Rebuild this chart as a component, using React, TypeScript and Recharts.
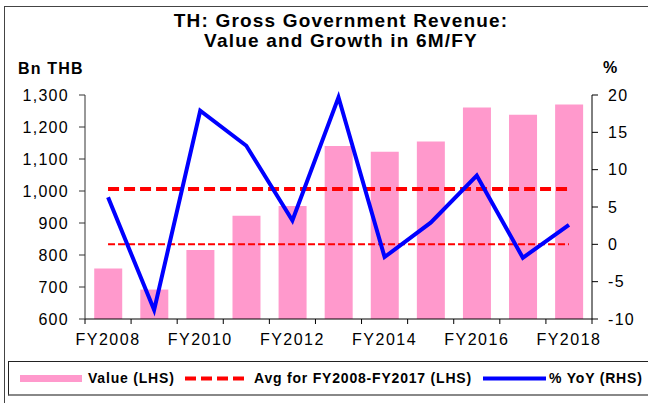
import React from 'react';
import { ComposedChart, Bar, Line, XAxis, YAxis } from 'recharts';

const categories = ['FY2008', 'FY2009', 'FY2010', 'FY2011', 'FY2012', 'FY2013', 'FY2014', 'FY2015', 'FY2016', 'FY2017', 'FY2018'];
const revenueBn = [758, 692, 816, 923, 953, 1141, 1123, 1155, 1261, 1238, 1270];
const yoyPct = [6.3, -8.8, 17.9, 13.2, 3.2, 19.7, -1.7, 2.9, 9.2, -1.8, 2.6];
const avgFY08to17 = 1006;
const zeroPct = 0;
const leftTicks = [600, 700, 800, 900, 1000, 1100, 1200, 1300];
const rightTicks = [-10, -5, 0, 5, 10, 15, 20];

const data = categories.map((name, i) => ({
  name,
  value: revenueBn[i],
  avg: avgFY08to17,
  zero: zeroPct,
  yoy: yoyPct[i],
}));

const W = 648;
const H = 403;
const LEFT_W = 85;
const RIGHT_W = 56;
const TOP = 95;
const X_AXIS_H = 84;
const PLOT_BOTTOM = H - X_AXIS_H;
const BAND = (W - LEFT_W - RIGHT_W) / categories.length;

const PINK = '#ff99cc';
const RED = '#ff0000';
const BLUE = '#0000ff';

const XTick = (props: any) => {
  const { x, index, payload } = props;
  const last = index === categories.length - 1;
  return (
    <g>
      <line x1={x - BAND / 2} x2={x - BAND / 2} y1={PLOT_BOTTOM} y2={PLOT_BOTTOM + 5} stroke="#000" />
      {last && <line x1={x + BAND / 2} x2={x + BAND / 2} y1={PLOT_BOTTOM} y2={PLOT_BOTTOM + 5} stroke="#000" />}
      {index % 2 === 0 && (
        <text x={x} y={PLOT_BOTTOM + 26} textAnchor="middle" fontSize={16} fill="#000" letterSpacing={1.5}>
          {payload.value}
        </text>
      )}
    </g>
  );
};

const legendText: React.CSSProperties = {
  position: 'absolute',
  top: 371,
  fontSize: 14,
  lineHeight: '14px',
  fontWeight: 'bold',
  letterSpacing: 0.8,
  whiteSpace: 'nowrap',
  color: '#000',
};

const App: React.FC = () => {
  return (
    <div
      style={{
        position: 'absolute',
        left: 0,
        top: 0,
        width: W,
        height: H,
        overflow: 'hidden',
        background: '#fff',
        fontFamily: '"Liberation Sans", Arial, sans-serif',
      }}
    >
      {/* outer frame */}
      <div style={{ position: 'absolute', left: 4, top: 6, width: 700, height: 500, border: '1px solid #444' }} />

      <ComposedChart width={W} height={H} data={data} margin={{ top: TOP, right: 0, left: 0, bottom: 0 }} barCategoryGap="20%">
        <XAxis dataKey="name" interval={0} tickLine={false} axisLine={{ stroke: '#000' }} height={X_AXIS_H} tick={XTick} />
        <YAxis
          yAxisId="left"
          domain={[600, 1300]}
          ticks={leftTicks}
          interval={0}
          width={LEFT_W}
          tickSize={6}
          tickMargin={10}
          axisLine={{ stroke: '#333' }}
          tickLine={{ stroke: '#333' }}
          tickFormatter={(v: number) => v.toLocaleString('en-US')}
          tick={{ fontSize: 16, fill: '#000', letterSpacing: 1.3 }}
        />
        <YAxis
          yAxisId="right"
          orientation="right"
          domain={[-10, 20]}
          ticks={rightTicks}
          interval={0}
          width={RIGHT_W}
          tickSize={6}
          tickMargin={10}
          axisLine={{ stroke: '#000' }}
          tickLine={{ stroke: '#000' }}
          tick={{ fontSize: 16, fill: '#000', letterSpacing: 1.3 }}
        />
        <Bar yAxisId="left" dataKey="value" fill={PINK} isAnimationActive={false} />
        <Line yAxisId="right" dataKey="zero" type="linear" stroke={RED} strokeWidth={2} strokeDasharray="7 3" dot={false} activeDot={false} isAnimationActive={false} />
        <Line yAxisId="left" dataKey="avg" type="linear" stroke={RED} strokeWidth={4} strokeDasharray="11 5" dot={false} activeDot={false} isAnimationActive={false} />
        <Line yAxisId="right" dataKey="yoy" type="linear" stroke={BLUE} strokeWidth={4} dot={false} activeDot={false} isAnimationActive={false} />
      </ComposedChart>

      {/* title and axis captions */}
      <div
        style={{
          position: 'absolute',
          left: 141,
          top: 11,
          width: 400,
          textAlign: 'center',
          fontSize: 19,
          lineHeight: '20px',
          fontWeight: 'bold',
          letterSpacing: 1.2,
          color: '#000',
        }}
      >
        TH: Gross Government Revenue:
        <br />
        Value and Growth in 6M/FY
      </div>
      <div style={{ position: 'absolute', left: 18, top: 61, fontSize: 16, lineHeight: '15px', fontWeight: 'bold', letterSpacing: 1.2 }}>Bn THB</div>
      <div style={{ position: 'absolute', left: 603, top: 60, fontSize: 16, lineHeight: '16px', fontWeight: 'bold', letterSpacing: 1 }}>%</div>

      {/* legend */}
      <div
        style={{
          position: 'absolute',
          left: 8,
          top: 361,
          width: 700,
          height: 32,
          borderTop: '1px solid #222',
          borderLeft: '1px solid #222',
          borderBottom: '2px solid #888',
          background: '#fff',
        }}
      />
      <div style={{ position: 'absolute', left: 20, top: 375, width: 62, height: 7, background: PINK }} />
      <span style={{ ...legendText, left: 88 }}>Value (LHS)</span>
      <svg style={{ position: 'absolute', left: 185, top: 374 }} width={64} height={9}>
        <line x1={0} x2={64} y1={4.5} y2={4.5} stroke={RED} strokeWidth={4} strokeDasharray="11 5" />
      </svg>
      <span style={{ ...legendText, left: 254 }}>Avg for FY2008-FY2017 (LHS)</span>
      <svg style={{ position: 'absolute', left: 483, top: 374 }} width={63} height={9}>
        <line x1={0} x2={63} y1={4.5} y2={4.5} stroke={BLUE} strokeWidth={4} />
      </svg>
      <span style={{ ...legendText, left: 549 }}>% YoY (RHS)</span>
    </div>
  );
};

export default App;
